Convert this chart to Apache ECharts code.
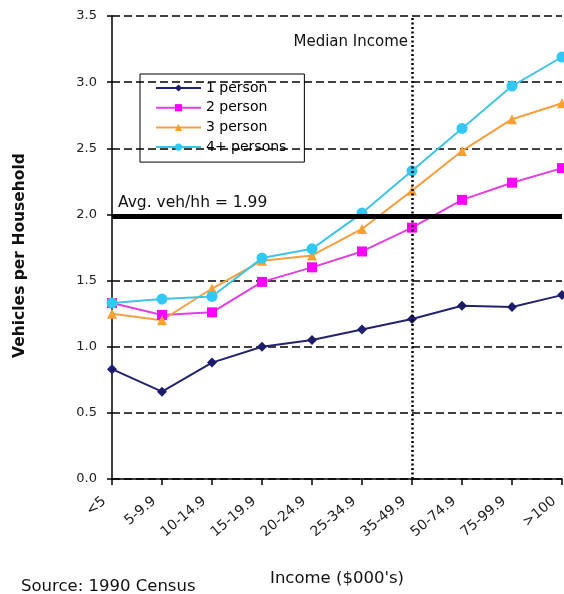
<!DOCTYPE html>
<html><head><meta charset="utf-8">
<script src="https://cdn.jsdelivr.net/npm/echarts@6/dist/echarts.min.js"></script>
<style>html,body{margin:0;padding:0;background:#fff}#c{width:564px;height:594px}</style>
</head><body><div id="c"></div>
<script>
const categories = ['<5','5-9.9','10-14.9','15-19.9','20-24.9','25-34.9','35-49.9','50-74.9','75-99.9','>100'];
const onePerson = [0.83,0.66,0.88,1.00,1.05,1.13,1.21,1.31,1.30,1.39];
const twoPerson = [1.33,1.24,1.26,1.49,1.60,1.72,1.90,2.11,2.24,2.35];
const threePerson = [1.25,1.20,1.44,1.65,1.69,1.89,2.18,2.48,2.72,2.84];
const fourPlus = [1.33,1.36,1.38,1.67,1.74,2.01,2.33,2.65,2.97,3.19];
const avgVeh = 1.99;
const medianCategory = '35-49.9';

const font = 'DejaVu Sans, Liberation Sans, Arial, sans-serif';
const chart = echarts.init(document.getElementById('c'));
function mk(name, data, color, lineColor, symbol, size){
  return {name, type:'line', data, symbol, symbolSize:size, showSymbol:true,
    lineStyle:{color:lineColor, width:2}, itemStyle:{color}, z:3};
}
const s1 = mk('1 person', onePerson, '#1c1c6a', '#23236e', 'diamond', 10);
s1.markLine = {silent:true, symbol:'none', animation:false,
  data:[
    {yAxis: avgVeh, lineStyle:{color:'#000', width:5, type:'solid'},
     label:{show:true, position:'insideStartTop', formatter:'Avg. veh/hh = ' + avgVeh, color:'#111', fontFamily:font, fontSize:15.5, distance:[6,5]}},
    {xAxis: medianCategory, lineStyle:{color:'#000', width:2.5, type:[2,2.5]}, label:{show:false}}
  ]};
chart.setOption({
  animation:false,
  textStyle:{fontFamily:font},
  grid:{left:112, top:16, right:2, bottom:115, outerBoundsMode:'none', containLabel:false},
  legend:{orient:'vertical', left:140, top:74, borderColor:'#000', borderWidth:1,
    padding:[7,18,8,15], itemGap:5.7, itemWidth:45, itemHeight:9,
    textStyle:{fontFamily:font, fontSize:14, color:'#000', lineHeight:14},
    data:['1 person','2 person','3 person','4+ persons']},
  xAxis:{type:'category', data:categories, boundaryGap:false,
    axisLine:{lineStyle:{color:'#000', width:1.5}},
    axisTick:{show:true, alignWithLabel:true, length:6, lineStyle:{color:'#000', width:1.5}},
    axisLabel:{rotate:40, fontFamily:font, fontSize:14, color:'#222', margin:14, interval:0, padding:[0,10,0,0]},
    name:"Income ($000's)", nameLocation:'middle', nameGap:91,
    nameTextStyle:{fontFamily:font, fontSize:16.5, color:'#111'},
    splitLine:{show:false}},
  yAxis:{type:'value', min:0, max:3.5, interval:0.5,
    axisLine:{show:true, lineStyle:{color:'#000', width:1.5}},
    axisTick:{show:true, length:5, lineStyle:{color:'#000', width:1.5}},
    axisLabel:{formatter:v=>v.toFixed(1), fontFamily:font, fontSize:13, color:'#222', margin:15},
    splitLine:{show:true, lineStyle:{color:'#000', type:[8,4], width:1.5}},
    name:'Vehicles per Household', nameLocation:'middle', nameGap:84,
    nameTextStyle:{fontFamily:font, fontSize:15.5, color:'#111', fontWeight:'bold', padding:[0,16,0,0]}},
  graphic:[
    {type:'text', right:156, top:35, style:{text:'Median Income', font:'15px '+font, fill:'#111'}},
    {type:'text', left:21, top:578, style:{text:'Source: 1990 Census', font:'16.5px '+font, fill:'#111'}}
  ],
  series:[
    s1,
    mk('2 person', twoPerson, '#ff00ff', '#e040e0', 'rect', 10),
    mk('3 person', threePerson, '#f8a030', '#f4a040', 'triangle', 10),
    mk('4+ persons', fourPlus, '#30c8f4', '#40c4e8', 'circle', 11)
  ]
});
</script></body></html>
